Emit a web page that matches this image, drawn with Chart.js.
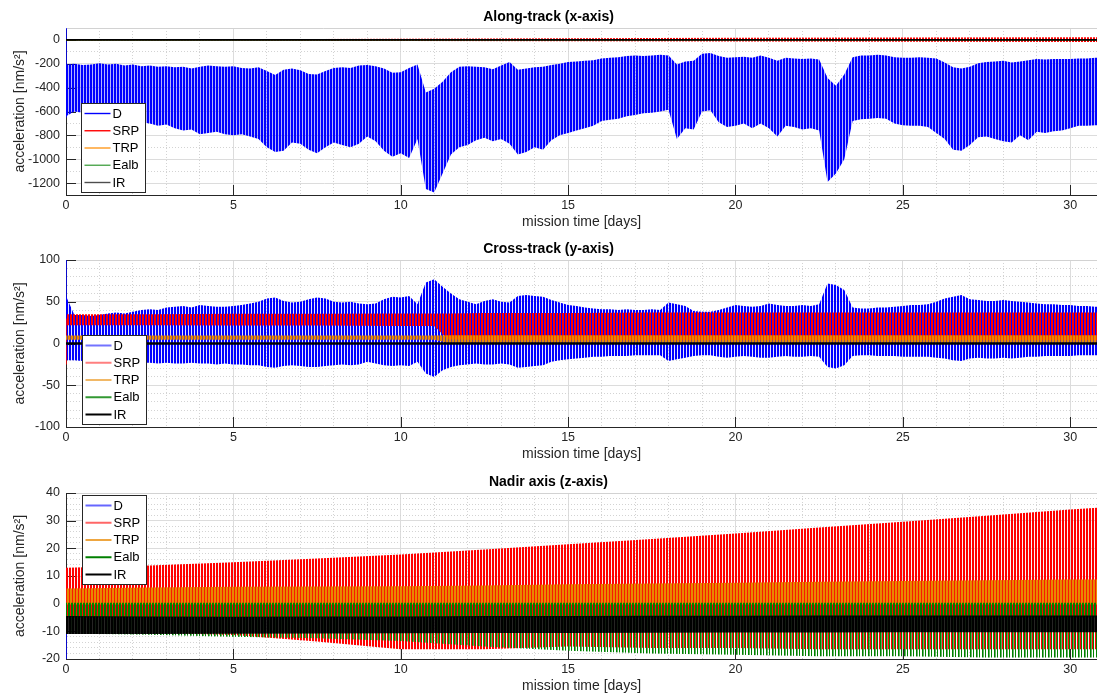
<!DOCTYPE html>
<html>
<head>
<meta charset="utf-8">
<script src="https://cdn.jsdelivr.net/npm/chart.js@4/dist/chart.umd.min.js"></script>
<style>
  html, body { margin: 0; padding: 0; background: #fff; overflow: hidden; }
  #wrap { position: relative; width: 1097px; height: 694px; overflow: hidden; background: #fff; }
  .panel { position: absolute; left: 0; width: 1097px; }
  canvas { display: block; }
</style>
</head>
<body>
<div id="wrap">
  <div class="panel" style="top:0px;height:232px"><canvas id="along" width="1097" height="232"></canvas></div>
  <div class="panel" style="top:232px;height:232px"><canvas id="cross" width="1097" height="232"></canvas></div>
  <div class="panel" style="top:465px;height:231px"><canvas id="nadir" width="1097" height="231"></canvas></div>
</div>
<script>
// ---- series names and axis ticks ----
const seriesNames = ['D', 'SRP', 'TRP', 'Ealb', 'IR'];
const xTickValues = [0, 5, 10, 15, 20, 25, 30];
const xTickLabels = ['0', '5', '10', '15', '20', '25', '30'];
const xMax = 30.8;

const alongYTicks = [-1200, -1000, -800, -600, -400, -200, 0];
const alongYLabels = ['-1200', '-1000', '-800', '-600', '-400', '-200', '0'];
const crossYTicks = [-100, -50, 0, 50, 100];
const crossYLabels = ['-100', '-50', '0', '50', '100'];
const nadirYTicks = [-20, -10, 0, 10, 20, 30, 40];
const nadirYLabels = ['-20', '-10', '0', '10', '20', '30', '40'];

// ---- drag (D): per-orbit envelope, sampled every quarter day from day 0 to day 31 ----
const DRAG_STEP_DAYS = 0.25;
const alongDragHigh = [
  -205,-200,-210,-205,-195,-205,-200,-215,-205,-220,
  -215,-225,-220,-230,-225,-240,-225,-215,-220,-225,
  -220,-235,-240,-230,-260,-295,-250,-240,-255,-285,
  -290,-260,-235,-230,-235,-215,-210,-220,-240,-275,
  -270,-235,-205,-440,-410,-350,-270,-225,-220,-225,
  -230,-245,-215,-185,-250,-240,-230,-225,-210,-200,
  -185,-180,-175,-170,-155,-150,-145,-135,-130,-135,
  -130,-125,-130,-205,-180,-175,-115,-110,-135,-150,
  -145,-140,-150,-130,-150,-175,-150,-155,-160,-155,
  -165,-320,-385,-290,-145,-130,-130,-125,-130,-145,
  -150,-150,-145,-150,-155,-190,-230,-240,-225,-195,
  -185,-180,-175,-190,-180,-170,-160,-165,-160,-160,
  -160,-155,-155,-150,-150
];
const alongDragLow = [
  -640,-600,-610,-620,-640,-650,-660,-670,-680,-690,
  -700,-720,-710,-740,-760,-750,-790,-780,-770,-790,
  -800,-790,-810,-830,-900,-940,-930,-860,-870,-920,
  -950,-900,-860,-880,-900,-870,-810,-850,-930,-980,
  -950,-990,-830,-1250,-1280,-1120,-960,-900,-880,-840,
  -820,-850,-830,-870,-960,-940,-900,-920,-840,-800,
  -780,-760,-740,-720,-680,-670,-660,-640,-630,-615,
  -610,-600,-585,-830,-740,-750,-600,-590,-690,-730,
  -720,-700,-740,-700,-740,-810,-720,-730,-750,-740,
  -760,-1190,-1120,-1000,-680,-665,-660,-655,-660,-700,
  -715,-720,-720,-730,-780,-830,-920,-930,-880,-815,
  -810,-830,-850,-860,-800,-840,-770,-780,-765,-760,
  -740,-720,-720,-715,-715
];
const crossDragHigh = [
  57,34,34,33,34,36,37,36,38,40,
  41,40,43,44,45,43,46,45,44,44,
  45,46,48,50,54,55,51,49,50,53,
  55,54,50,49,50,48,47,48,53,56,
  55,57,47,73,77,68,60,53,50,47,
  51,53,50,49,57,58,57,56,52,49,
  46,45,43,42,41,41,40,41,40,40,
  41,40,49,47,45,39,38,38,40,43,
  46,45,44,45,48,46,45,45,46,45,
  47,72,70,64,43,42,42,43,43,44,
  45,46,46,47,50,54,56,58,53,52,
  51,51,52,51,50,49,48,47,47,46,
  46,45,45,44,44
];
const crossDragLow = [
  -20,-20,-21,-21,-22,-22,-22,-23,-22,-23,
  -23,-24,-23,-24,-24,-23,-24,-24,-25,-24,
  -25,-25,-26,-26,-28,-29,-27,-26,-27,-28,
  -28,-27,-26,-25,-26,-25,-22,-24,-26,-27,
  -26,-27,-22,-36,-40,-32,-28,-26,-25,-24,
  -25,-25,-24,-25,-29,-28,-27,-26,-22,-20,
  -19,-18,-17,-16,-16,-15,-15,-15,-14,-14,
  -14,-14,-21,-19,-17,-15,-14,-14,-16,-17,
  -16,-15,-16,-17,-17,-16,-15,-16,-16,-15,
  -16,-28,-30,-26,-15,-14,-14,-15,-15,-15,
  -16,-16,-16,-16,-17,-18,-20,-21,-18,-17,
  -18,-18,-17,-18,-17,-16,-16,-15,-15,-15,
  -15,-14,-14,-14,-14
];
const dragDays = alongDragHigh.map((_, i) => i * DRAG_STEP_DAYS);

// start-up transients at day 0
const startDays = [0, 0];
const alongDragStart = [100, -650];
const crossDragStart = [100, 20];
const crossSrpStart = [30, -25];
const nadirDragStart = [3.5, -20];

// ---- along-track: the other forces stay close to zero ----
const alongSrpDays = [0, 5, 10, 15, 20, 25, 31];
const alongSrpHigh = [4, 6, 10, 14, 18, 20, 22];
const alongSrpLow = [-4, -5, -8, -12, -14, -16, -18];
const flatDays = [0, 31];
const alongTrp = [0, 0];
const alongEalb = [0, 0];
const alongIr = [0, 0];

// ---- cross-track ----
const crossSrpDays = [0, 2.5, 5, 7.5, 10, 11, 11.4, 12.5, 15, 17.5, 20, 22.5, 25, 27.5, 30, 31];
const crossSrpHigh = [35, 35, 35.5, 35.5, 36, 36, 36, 36.5, 36.5, 37, 37, 37, 37, 37, 37, 37];
const crossSrpLow  = [22, 22, 21.5, 21.5, 21, 21, 5, 4, 4, 4, 4, 4, 4, 4, 4, 4];
const crossTrpDays = [0, 11, 11.4, 31];
const crossTrpHigh = [9.5, 9.5, 10, 10];
const crossTrpLow  = [4.5, 4.5, 1, 1];
const crossEalb = [0, 0];
const crossIr = [0, 0];

// ---- nadir ----
const nadirDays = [0, 2.5, 5, 7.5, 10, 12.5, 15, 17.5, 20, 22.5, 25, 27.5, 30, 31];
const nadirSrpHigh  = [13, 13.8, 15, 16.3, 17.8, 19.6, 21.5, 23.4, 25.4, 27.5, 29.6, 31.8, 34.0, 34.8];
const nadirSrpLow   = [-10, -10.5, -11.3, -13.7, -16.5, -16.5, -15.5, -16, -16, -16.5, -16.5, -16.5, -16.5, -16.5];
const nadirTrpHigh  = [5.5, 5.8, 6.1, 6.2, 6.3, 6.6, 7.0, 7.3, 7.6, 7.9, 8.2, 8.5, 8.7, 8.8];
const nadirTrpLow   = [-0.3, -0.3, -0.3, -0.3, -0.3, -0.3, -0.3, -0.3, -0.3, -0.3, -0.3, -0.3, -0.3, -0.3];
// Earth albedo: dense swing near zero, occasional deeper dips
const nadirEalbHigh = [0.3, 0.3, 0.3, 0.3, 0.3, 0.3, 0.3, 0.3, 0.3, 0.3, 0.3, 0.3, 0.3, 0.3];
const nadirEalbCore = [-5, -5, -5, -5, -5, -5, -5, -5, -5, -5, -5, -5, -5, -5];
const nadirEalbLow  = [-10.8, -11.2, -12, -12.5, -13.5, -15.5, -17, -18, -18.5, -19, -19, -19.5, -19.5, -19.5];
const nadirIrHigh   = [-4.5, -4.6, -4.7, -4.6, -4.6, -4.5, -4.5, -4.4, -4.4, -4.3, -4.3, -4.3, -4.3, -4.3];
const nadirIrLow    = [-11, -11, -10.9, -10.8, -10.7, -10.6, -10.6, -10.5, -10.4, -10.4, -10.3, -10.3, -10.3, -10.3];

// ---------------------------------------------------------------------------
const FONT = '"Liberation Sans", Arial, Helvetica, sans-serif';
Chart.defaults.font.family = FONT;
Chart.defaults.color = '#262626';
Chart.defaults.animation = false;

const RGB = { D: '0,0,255', SRP: '255,0,0', TRP: '232,136,0', Ealb: '0,128,0', IR: '0,0,0' };
const ORDER = { D: 50, SRP: 40, TRP: 30, Ealb: 20, IR: 10 };

// vertical hatching: each orbit's swing shows as thin vertical strokes
function stripes(ctx, rgb, alphas) {
  const c = document.createElement('canvas');
  c.width = alphas.length; c.height = 1;
  const g = c.getContext('2d');
  alphas.forEach((a, i) => {
    g.fillStyle = 'rgba(' + rgb + ',' + a + ')';
    g.fillRect(i, 0, 1, 1);
  });
  return ctx.createPattern(c, 'repeat');
}

function pts(days, vals) { return days.map((d, i) => ({ x: d, y: vals[i] })); }

// legend box drawn inside the axes
const legendBox = {
  id: 'legendBox',
  afterDraw(chart, args, o) {
    const { ctx, chartArea: a } = chart;
    const rowH = 17.25, w = 64, h = 20 + rowH * (seriesNames.length - 1);
    const x0 = Math.round(a.left + o.dx) + 0.5;
    const y0 = Math.round(o.anchor === 'top' ? a.top + o.dy : a.bottom - o.dy - h) + 0.5;
    ctx.save();
    ctx.fillStyle = '#fff';
    ctx.fillRect(x0, y0, w, h);
    ctx.strokeStyle = '#262626';
    ctx.lineWidth = 1;
    ctx.strokeRect(x0, y0, w, h);
    ctx.font = '13px ' + FONT;
    ctx.textBaseline = 'middle';
    seriesNames.forEach((n, i) => {
      const y = y0 + 10 + i * rowH;
      ctx.strokeStyle = o.colors[i];
      ctx.lineWidth = o.width;
      ctx.beginPath();
      ctx.moveTo(x0 + 3, y);
      ctx.lineTo(x0 + 29, y);
      ctx.stroke();
      ctx.fillStyle = '#000';
      ctx.fillText(n, x0 + 31, y + 0.5);
    });
    ctx.restore();
  }
};

// inward tick marks and the upper frame line
const innerTicks = {
  id: 'innerTicks',
  beforeDatasetsDraw(chart, args, o) {
    const { ctx, chartArea: a, scales: { x, y } } = chart;
    ctx.save();
    ctx.lineWidth = 1;
    ctx.strokeStyle = '#d2d2d2';
    ctx.beginPath();
    ctx.moveTo(a.left, Math.round(a.top) + 0.5);
    ctx.lineTo(a.right, Math.round(a.top) + 0.5);
    ctx.stroke();
    ctx.strokeStyle = '#262626';
    ctx.beginPath();
    xTickValues.forEach(v => {
      const px = Math.round(x.getPixelForValue(v)) + 0.5;
      ctx.moveTo(px, a.bottom);
      ctx.lineTo(px, a.bottom - 10);
    });
    o.yTicks.forEach(v => {
      const py = Math.round(y.getPixelForValue(v)) + 0.5;
      ctx.moveTo(a.left, py);
      ctx.lineTo(a.left + 10, py);
    });
    ctx.stroke();
    ctx.restore();
  }
};

function range(from, to, step) {
  const out = [];
  for (let v = from; v <= to + 1e-9; v += step) out.push(Math.round(v * 1000) / 1000);
  return out;
}

function buildPanel(p) {
  const canvas = document.getElementById(p.id);
  const ctx = canvas.getContext('2d');
  const datasets = [];
  p.series.forEach(s => {
    if (s.kind === 'band') {
      const lowIdx = datasets.length;
      datasets.push({ data: pts(s.days, s.low), borderWidth: 0, pointRadius: 0, fill: false, order: ORDER[s.name] });
      datasets.push({
        data: pts(s.days, s.high), borderWidth: 0, pointRadius: 0, fill: lowIdx,
        backgroundColor: stripes(ctx, RGB[s.name], s.hatch), order: ORDER[s.name]
      });
    } else {
      datasets.push({
        data: pts(s.days, s.values), borderColor: 'rgb(' + RGB[s.name] + ')', borderWidth: s.width,
        pointRadius: 0, fill: false, order: ORDER[s.name] - 1
      });
    }
  });

  const xGrid = range(0, 30, 1);
  const xMajor = new Set(xTickValues);
  const yMajor = new Set(p.yTicks);
  const yGrid = range(p.yMin, p.yMax, p.yMinorStep);

  return new Chart(ctx, {
    type: 'line',
    data: { datasets },
    plugins: [innerTicks, legendBox],
    options: {
      responsive: false,
      devicePixelRatio: 1,
      events: [],
      layout: { padding: 0 },
      plugins: {
        legend: { display: false },
        tooltip: { enabled: false },
        title: {
          display: true, text: p.title, color: '#000',
          font: { size: 14, weight: 'bold' }, padding: { top: 8.6, bottom: 2.6 }
        },
        innerTicks: { yTicks: p.yTicks },
        legendBox: p.legend
      },
      scales: {
        x: {
          type: 'linear', min: 0, max: xMax,
          afterBuildTicks: sc => { sc.ticks = xGrid.map(v => ({ value: v })); },
          afterFit: sc => { sc.height = 37; },
          ticks: {
            autoSkip: false, maxRotation: 0, padding: 3, font: { size: 12.5 }, color: '#262626',
            callback: v => { const k = xTickValues.indexOf(v); return k >= 0 ? xTickLabels[k] : ''; }
          },
          grid: {
            drawTicks: false, lineWidth: 1,
            color: c => (c.tick && xMajor.has(c.tick.value)) ? '#dcdcdc' : '#d3d3d3'
          },
          border: {
            display: true, color: '#262626', width: 1,
            dash: c => (c.tick && !xMajor.has(c.tick.value)) ? [1, 2] : []
          },
          title: {
            display: true, text: 'mission time [days]', color: '#262626',
            font: { size: 14 }, padding: { top: 0, bottom: 1.6 }
          }
        },
        y: {
          type: 'linear', min: p.yMin, max: p.yMax,
          afterBuildTicks: sc => { sc.ticks = yGrid.map(v => ({ value: v })); },
          afterFit: sc => { sc.width = 66; },
          ticks: {
            autoSkip: false, padding: 6, font: { size: 12.5 }, color: '#262626',
            callback: v => { const k = p.yTicks.indexOf(v); return k >= 0 ? p.yLabels[k] : ''; }
          },
          grid: {
            drawTicks: false, lineWidth: 1,
            color: c => (c.tick && yMajor.has(c.tick.value)) ? '#dcdcdc' : '#d3d3d3'
          },
          border: {
            display: true, color: '#262626', width: 1,
            dash: c => (c.tick && !yMajor.has(c.tick.value)) ? [1, 2] : []
          },
          title: {
            display: true, text: 'acceleration [nm/s²]', color: '#262626',
            font: { size: 14 }, padding: { top: 11.5, bottom: 0 }
          }
        }
      }
    }
  });
}

buildPanel({
  id: 'along', title: 'Along-track (x-axis)',
  yMin: -1300, yMax: 100, yMinorStep: 100, yTicks: alongYTicks, yLabels: alongYLabels,
  legend: { anchor: 'bottom', dx: 15, dy: 3, width: 1.4,
            colors: ['#0000ff', '#ff0000', '#ff9a1f', '#4da64d', '#4d4d4d'] },
  series: [
    { name: 'D', kind: 'band', days: dragDays, high: alongDragHigh, low: alongDragLow, hatch: [1, 1, 0.3] },
    { name: 'D', kind: 'line', days: startDays, values: alongDragStart, width: 1.5 },
    { name: 'SRP', kind: 'band', days: alongSrpDays, high: alongSrpHigh, low: alongSrpLow, hatch: [0, 1, 1] },
    { name: 'TRP', kind: 'line', days: flatDays, values: alongTrp, width: 1 },
    { name: 'Ealb', kind: 'line', days: flatDays, values: alongEalb, width: 1 },
    { name: 'IR', kind: 'line', days: flatDays, values: alongIr, width: 1.8 }
  ]
});

buildPanel({
  id: 'cross', title: 'Cross-track (y-axis)',
  yMin: -100, yMax: 100, yMinorStep: 10, yTicks: crossYTicks, yLabels: crossYLabels,
  legend: { anchor: 'bottom', dx: 16, dy: 3, width: 2,
            colors: ['rgba(0,0,255,0.55)', 'rgba(255,0,0,0.5)', 'rgba(232,136,0,0.6)', 'rgba(0,128,0,0.8)', '#000'] },
  series: [
    { name: 'D', kind: 'band', days: dragDays, high: crossDragHigh, low: crossDragLow, hatch: [1, 1, 0.1] },
    { name: 'D', kind: 'line', days: startDays, values: crossDragStart, width: 1.5 },
    { name: 'SRP', kind: 'band', days: crossSrpDays, high: crossSrpHigh, low: crossSrpLow, hatch: [0, 1, 1] },
    { name: 'SRP', kind: 'line', days: startDays, values: crossSrpStart, width: 1.5 },
    { name: 'TRP', kind: 'band', days: crossTrpDays, high: crossTrpHigh, low: crossTrpLow, hatch: [1, 0.5, 1] },
    { name: 'Ealb', kind: 'line', days: flatDays, values: crossEalb, width: 1 },
    { name: 'IR', kind: 'line', days: flatDays, values: crossIr, width: 2.5 }
  ]
});

buildPanel({
  id: 'nadir', title: 'Nadir axis (z-axis)',
  yMin: -20, yMax: 40, yMinorStep: 2, yTicks: nadirYTicks, yLabels: nadirYLabels,
  legend: { anchor: 'top', dx: 16, dy: 2, width: 2,
            colors: ['rgba(0,0,255,0.6)', 'rgba(255,0,0,0.6)', 'rgba(232,136,0,0.75)', '#008000', '#000'] },
  series: [
    { name: 'D', kind: 'line', days: startDays, values: nadirDragStart, width: 1.5 },
    { name: 'SRP', kind: 'band', days: nadirDays, high: nadirSrpHigh, low: nadirSrpLow, hatch: [1, 1, 0.05] },
    { name: 'TRP', kind: 'band', days: nadirDays, high: nadirTrpHigh, low: nadirTrpLow, hatch: [0.2, 1, 1] },
    { name: 'Ealb', kind: 'band', days: nadirDays, high: nadirEalbHigh, low: nadirEalbCore, hatch: [1, 0, 1] },
    { name: 'Ealb', kind: 'band', days: nadirDays, high: nadirEalbCore, low: nadirEalbLow, hatch: [0, 1, 0, 0, 1, 0.6] },
    { name: 'IR', kind: 'band', days: nadirDays, high: nadirIrHigh, low: nadirIrLow, hatch: [1, 1, 0.85] }
  ]
});
</script>
</body>
</html>
